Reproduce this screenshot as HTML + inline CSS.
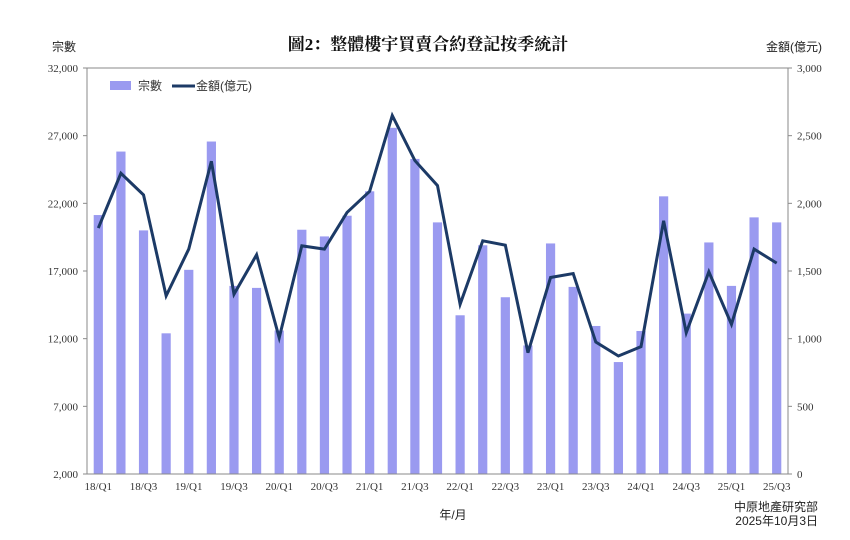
<!DOCTYPE html>
<html><head><meta charset="utf-8"><style>
body{margin:0;background:#fff;}
svg{display:block;font-family:"Liberation Serif","Noto Serif CJK SC",serif;}
</style></head><body>
<svg id="chart" width="850" height="540">
<text x="428" y="50" text-anchor="middle" font-size="17" font-weight="bold" fill="#111">圖2：整體樓宇買賣合約登記按季統計</text>
<text x="52" y="51" font-size="12" fill="#222" font-family="Liberation Sans,Noto Sans CJK TC,sans-serif">宗數</text>
<text x="766" y="51" font-size="12" fill="#222" font-family="Liberation Sans,Noto Sans CJK TC,sans-serif">金額(億元)</text>
<text x="453" y="519" text-anchor="middle" font-size="12" fill="#222" font-family="Liberation Sans,Noto Sans CJK TC,sans-serif">年/月</text>
<text x="818" y="511" text-anchor="end" font-size="12" fill="#222" font-family="Liberation Sans,Noto Sans CJK TC,sans-serif">中原地產研究部</text>
<text x="818" y="525" text-anchor="end" font-size="12" fill="#222" font-family="Liberation Sans,Noto Sans CJK TC,sans-serif">2025年10月3日</text>
<g id="plot"></g>
<g>
<rect x="110" y="81" width="21" height="9" fill="#9a9af0"/>
<text x="138" y="90" font-size="12" fill="#333" font-family="Liberation Sans,Noto Sans CJK TC,sans-serif">宗數</text>
<line x1="172" y1="86" x2="195" y2="86" stroke="#1c3a66" stroke-width="3"/>
<text x="196" y="90" font-size="12" fill="#333" font-family="Liberation Sans,Noto Sans CJK TC,sans-serif">金額(億元)</text>
</g>
</svg>
<script>
const categories=["18/Q1","18/Q2","18/Q3","18/Q4","19/Q1","19/Q2","19/Q3","19/Q4","20/Q1","20/Q2","20/Q3","20/Q4","21/Q1","21/Q2","21/Q3","21/Q4","22/Q1","22/Q2","22/Q3","22/Q4","23/Q1","23/Q2","23/Q3","23/Q4","24/Q1","24/Q2","24/Q3","24/Q4","25/Q1","25/Q2","25/Q3"];
const counts=[21135,25826,20000,12395,17086,26567,15900,15752,12600,20049,19555,21085,22888,27579,25283,20592,13728,18900,15061,11500,19036,15826,12938,10271,12567,22517,13851,19110,15900,20962,20592];
const amounts=[1817,2222,2062,1316,1662,2311,1328,1620,1007,1686,1662,1933,2089,2649,2316,2131,1254,1723,1691,896,1452,1481,975,872,941,1871,1044,1494,1106,1662,1558];
const leftTicks=[2000,7000,12000,17000,22000,27000,32000];
const rightTicks=[0,500,1000,1500,2000,2500,3000];
const NS="http://www.w3.org/2000/svg";
const g=document.getElementById('plot');
const X0=87,X1=788,Y0=474,Y1=68;
const step=(X1-X0)/categories.length;
const xc=i=>X0+step*(i+0.5);
const yL=v=>Y0-(v-2000)/30000*(Y0-Y1);
const yR=v=>Y0-v/3000*(Y0-Y1);
function mk(t,a){const e=document.createElementNS(NS,t);for(const k in a)e.setAttribute(k,a[k]);g.appendChild(e);return e;}
counts.forEach((v,i)=>{
 const r=mk('rect',{x:xc(i)-4.6,y:yL(v),width:9.2,height:Y0-yL(v),fill:'#9a9af0'});
 
 
});
let ax=mk('path',{d:`M${X0},${Y1}V${Y0}H${X1}V${Y1}H${X0}`,fill:'none',stroke:'#8a8a8a','stroke-width':1});


leftTicks.forEach(v=>{
 mk('line',{x1:X0-4,x2:X0,y1:yL(v),y2:yL(v),stroke:'#8a8a8a'});
 const t=mk('text',{x:X0-9,y:yL(v)+4,'text-anchor':'end','font-size':11,fill:'#333'});t.textContent=v.toLocaleString('en-US');
 
 
});
rightTicks.forEach(v=>{
 mk('line',{x1:X1,x2:X1+4,y1:yR(v),y2:yR(v),stroke:'#8a8a8a'});
 const t=mk('text',{x:X1+9,y:yR(v)+4,'font-size':11,fill:'#333'});t.textContent=v.toLocaleString('en-US');
 
 
});
categories.forEach((c,i)=>{
 if(i%2)return;
 const t=mk('text',{x:xc(i),y:490,'text-anchor':'middle','font-size':11,fill:'#333'});t.textContent=c;
 
 
});
const ln=mk('polyline',{points:amounts.map((v,i)=>xc(i)+','+yR(v)).join(' '),fill:'none',stroke:'#1c3a66','stroke-width':3,'stroke-linejoin':'miter'});


</script>
</body></html>
